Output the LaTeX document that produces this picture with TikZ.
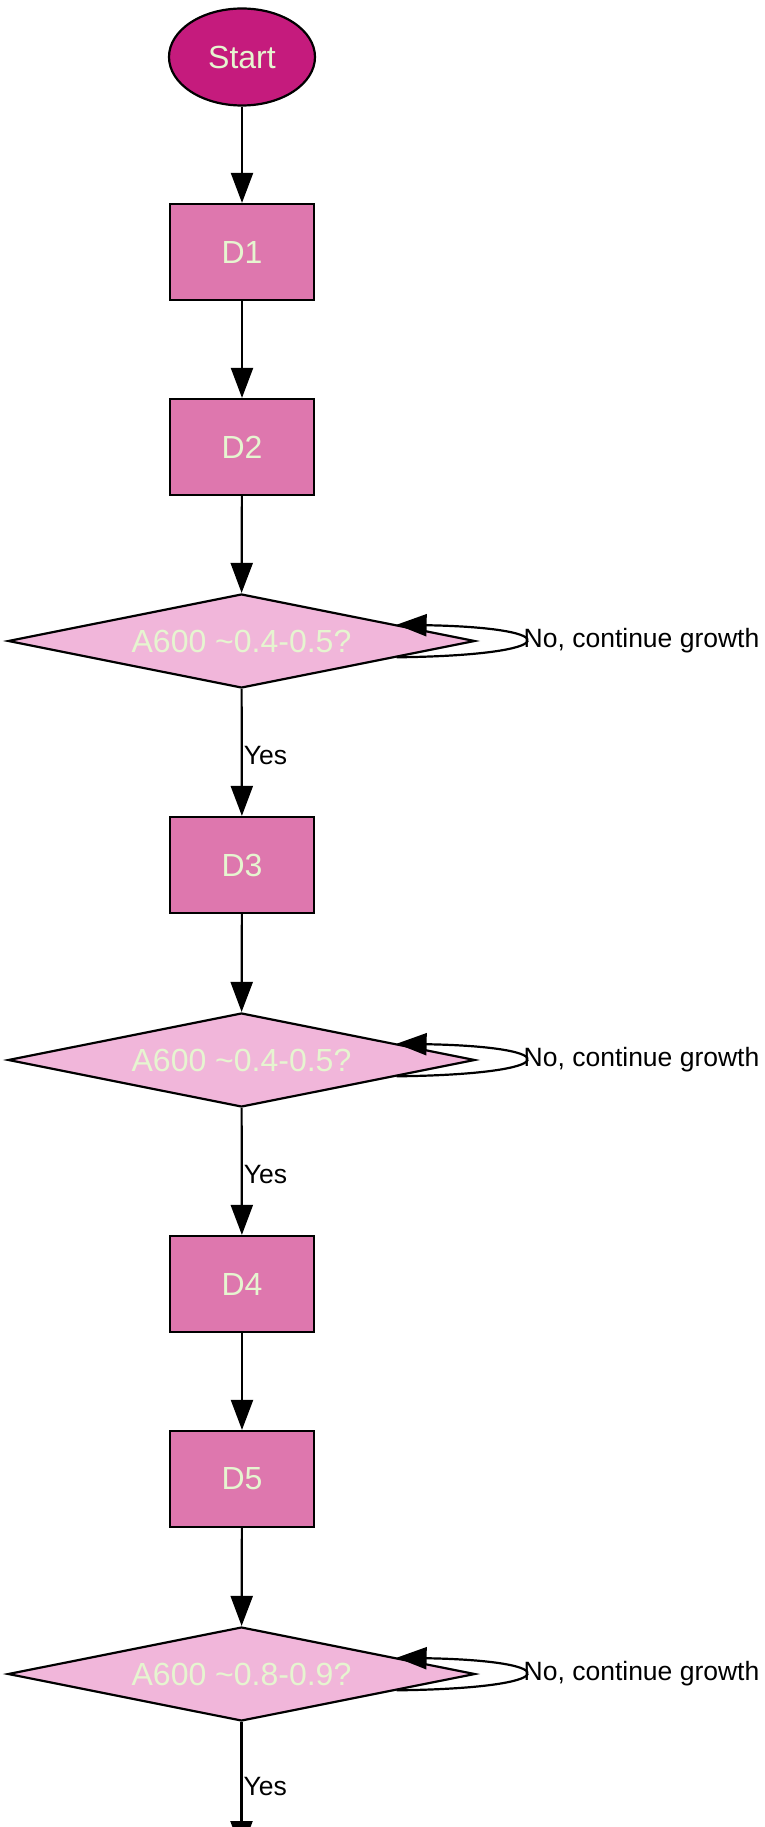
\documentclass[tikz,border=0pt]{standalone}
\usepackage{fontspec}
\setmainfont{Liberation Sans}
\usetikzlibrary{shapes.geometric,arrows.meta}
\definecolor{startfill}{HTML}{C51B7D}
\definecolor{boxfill}{HTML}{DE77AE}
\definecolor{decfill}{HTML}{F1B6DA}
\definecolor{txtcol}{HTML}{E6F5D0}
\tikzset{
  base/.style={draw=black, line width=2.2pt, text=txtcol, font=\fontsize{32}{36}\selectfont, inner sep=0pt},
  startnode/.style={base, ellipse, fill=startfill, minimum width=146pt, minimum height=97pt},
  procbox/.style={base, rectangle, fill=boxfill, minimum width=144pt, minimum height=96pt},
  decbox/.style={base, diamond, fill=decfill, shape aspect=5, minimum width=467pt, minimum height=94pt},
  conn/.style={line width=2.2pt, -{Triangle[length=30pt,width=22pt]}},
  elabel/.style={font=\fontsize{26.5}{30}\selectfont, text=black, inner sep=1pt},
}
\begin{document}
\begin{tikzpicture}[x=1pt,y=-1pt]
\clip (0,0) rectangle (764,1827);
\useasboundingbox (0,0) rectangle (764,1827);
\node[startnode] (start) at (242,57) {Start};
\node[procbox] (d1) at (242,252) {D1};
\node[procbox] (d2) at (242,447) {D2};
\node[decbox] (q1) at (241.5,641) {A600 \textasciitilde0.4-0.5?};
\node[procbox] (d3) at (242,865) {D3};
\node[decbox] (q2) at (241.5,1060) {A600 \textasciitilde0.4-0.5?};
\node[procbox] (d4) at (242,1284) {D4};
\node[procbox] (d5) at (242,1479) {D5};
\node[decbox] (q3) at (241.5,1674) {A600 \textasciitilde0.8-0.9?};
\coordinate (endpt) at (241.5,1851);

\draw[conn] (start) -- (d1);
\draw[conn] (d1) -- (d2);
\draw[conn] (d2) -- (q1);
\draw[conn] (q1) -- node[elabel, anchor=west, pos=0.52] (y1) {Yes} (d3);
\draw[conn] (d3) -- (q2);
\draw[conn] (q2) -- node[elabel, anchor=west, pos=0.52] (y2) {Yes} (d4);
\draw[conn] (d4) -- (d5);
\draw[conn] (d5) -- (q3);
\draw[conn] (q3.south) -- node[elabel, anchor=west, pos=0.50] (y3) {Yes} (endpt);

\foreach \q in {q1,q2,q3}{
  \draw[conn] (\q.-6.5) .. controls +(168,-2) and +(171,3) .. (\q.6);
  \node[elabel, anchor=west] at ([xshift=281pt]\q.center) {No, continue growth};
}
\end{tikzpicture}
\end{document}
